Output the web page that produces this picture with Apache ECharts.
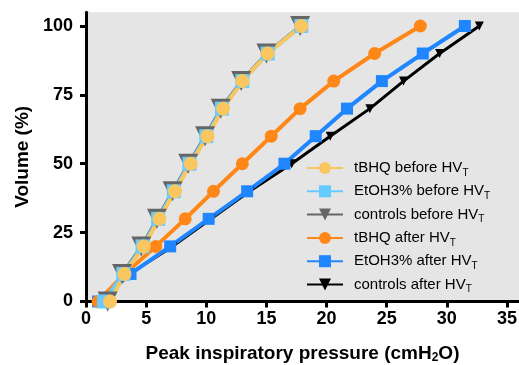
<!DOCTYPE html>
<html>
<head>
<meta charset="utf-8">
<script src="https://cdn.jsdelivr.net/npm/echarts@6/dist/echarts.min.js"></script>
<style>
  html, body { margin: 0; padding: 0; background: #ffffff; }
  #chart { width: 519px; height: 365px; }
</style>
</head>
<body>
<div id="chart"></div>
<script>
// Volume (%) reached at each peak inspiratory pressure (cmH2O)
const volumes = [0, 10, 20, 30, 40, 50, 60, 70, 80, 90, 100];

const tbhqBefore     = [2.0, 3.2, 4.8, 6.1, 7.4, 8.7, 10.1, 11.4, 13.0, 15.1, 17.9];
const etohBefore     = [1.5, 3.1, 4.7, 6.0, 7.3, 8.6, 10.0, 11.3, 13.0, 15.1, 17.9];
const controlsBefore = [1.8, 3.0, 4.6, 5.9, 7.2, 8.5, 9.9, 11.2, 12.9, 15.0, 17.8];
const tbhqAfter      = [1.0, 3.2, 5.8, 8.25, 10.6, 13.0, 15.4, 17.8, 20.6, 24.0, 27.8];
const etohAfter      = [1.0, 3.7, 7.0, 10.2, 13.4, 16.5, 19.1, 21.7, 24.6, 28.0, 31.5];
const controlsAfter  = [1.2, 3.6, 7.2, 10.4, 13.6, 17.1, 20.3, 23.6, 26.4, 29.4, 32.7];

const xTicks = [0, 5, 10, 15, 20, 25, 30, 35];
const yTicks = [0, 25, 50, 75, 100];

const legendNames = [
  'tBHQ before HVT',
  'EtOH3% before HVT',
  'controls before HVT',
  'tBHQ after HVT',
  'EtOH3% after HVT',
  'controls after HVT'
];

function pairs(xs) {
  return xs.map((x, i) => [x, volumes[i]]);
}

function makeSeries(name, xs, color, symbol, size, width, rotate) {
  return {
    name: name,
    type: 'line',
    data: pairs(xs),
    symbol: symbol,
    symbolSize: size,
    symbolRotate: rotate || 0,
    showAllSymbol: true,
    lineStyle: { color: color, width: width },
    itemStyle: { color: color, borderWidth: 0 },
    emphasis: { disabled: true },
    animation: false
  };
}

const chart = echarts.init(document.getElementById('chart'), null, { renderer: 'canvas' });

const axisText = { color: '#000', fontFamily: 'Liberation Sans, Arial, sans-serif', fontWeight: 'bold', fontSize: 18 };

chart.setOption({
  animation: false,
  grid: {
    left: 86, right: 0, top: 12.2, bottom: 63.5,
    outerBoundsMode: 'none',
    containLabel: false,
    show: true, backgroundColor: '#e5e5e5', borderWidth: 0
  },
  legend: {
    data: legendNames,
    orient: 'vertical',
    left: 301,
    top: 153,
    itemWidth: 36,
    itemHeight: 15,
    itemGap: 3.3,
    selectedMode: false,
    formatter: function (name) {
      return '{m|' + name.slice(0, -1) + '}{s|' + name.slice(-1) + '}';
    },
    textStyle: {
      color: '#000',
      fontFamily: 'Liberation Sans, Arial, sans-serif',
      fontSize: 15,
      lineHeight: 18,
      padding: [0, 0, 0, 6],
      rich: {
        m: { fontSize: 15, lineHeight: 18 },
        s: { fontSize: 10, lineHeight: 18, padding: [10, 0, 0, 0] }
      }
    }
  },
  xAxis: {
    type: 'value',
    min: 0, max: 36,
    name: 'Peak inspiratory pressure (cmH{s|2}O)',
    nameLocation: 'middle',
    nameGap: 42,
    nameTextStyle: Object.assign({}, axisText, {
      fontSize: 19,
      rich: { s: { fontSize: 12, fontWeight: 'bold', fontFamily: 'Liberation Sans, Arial, sans-serif', padding: [8, 0, 0, 0] } }
    }),
    splitLine: { show: false },
    axisLine: { show: true, onZero: false, lineStyle: { color: '#000', width: 3 } },
    axisTick: { show: true, length: 6, lineStyle: { color: '#000', width: 3 }, customValues: xTicks },
    axisLabel: Object.assign({}, axisText, { margin: 9, customValues: xTicks })
  },
  yAxis: {
    type: 'value',
    min: 0, max: 105,
    name: 'Volume (%)',
    nameLocation: 'middle',
    nameGap: 54,
    nameTextStyle: Object.assign({}, axisText, { fontSize: 19 }),
    splitLine: { show: false },
    axisLine: { show: true, onZero: false, lineStyle: { color: '#000', width: 3 } },
    axisTick: { show: true, length: 6, lineStyle: { color: '#000', width: 3 }, customValues: yTicks },
    axisLabel: Object.assign({}, axisText, { margin: 13, customValues: yTicks })
  },
  series: [
    makeSeries('controls after HVT', controlsAfter, '#000000', 'triangle', 9, 3, 180),
    makeSeries('EtOH3% after HVT', etohAfter, '#1f86ff', 'rect', 12, 4),
    makeSeries('tBHQ after HVT', tbhqAfter, '#ff8718', 'circle', 13, 4),
    makeSeries('controls before HVT', controlsBefore, '#666666', 'triangle', 20, 3, 180),
    makeSeries('EtOH3% before HVT', etohBefore, '#66ccff', 'rect', 14, 4),
    makeSeries('tBHQ before HVT', tbhqBefore, '#f9c660', 'circle', 14, 4)
  ]
});
</script>
</body>
</html>
